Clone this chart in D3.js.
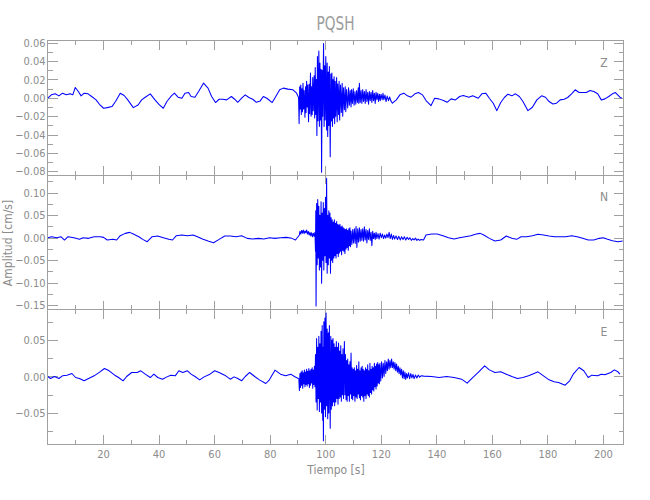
<!DOCTYPE html>
<html><head><meta charset="utf-8">
<script src="https://cdn.jsdelivr.net/npm/d3@7"></script>
<style>body{margin:0;background:#fff}</style>
</head><body><svg id="chart" width="650" height="500"></svg>
<script>
const chartTitle = "PQSH";
const componentNames = ["Z", "N", "E"];
const xLabel = "Tiempo [s]";
const yLabel = "Amplitud [cm/s]";
const xMajorTicks = [20, 40, 60, 80, 100, 120, 140, 160, 180, 200];
const xMinorTicks = [10, 30, 50, 70, 90, 110, 130, 150, 170, 190];
const yMajorZ = [-0.08, -0.06, -0.04, -0.02, 0, 0.02, 0.04, 0.06];
const yMinorZ = [-0.07, -0.05, -0.03, -0.01, 0.01, 0.03, 0.05];
const yMajorN = [-0.15, -0.10, -0.05, 0, 0.05, 0.10];
const yMinorN = [-0.125, -0.075, -0.025, 0.025, 0.075, 0.125];
const yMajorE = [-0.05, 0, 0.05];
const yMinorE = [-0.075, -0.025, 0.025, 0.075];
const timeRange = [0, 207.4];
const yRangeZ = [-0.0839, 0.0624];
const yRangeN = [-0.1596, 0.1393];
const yRangeE = [-0.0925, 0.0918];

// Z component [time s, velocity cm/s]
const traceZ = [
[0.1,-0.0004],[1.4,0.0033],[2.8,0.0044],[4.1,0.0022],[5.4,0.0051],[6.8,0.0033],[8.1,0.0044],[9.1,0.0033],[10.0,0.0113],[11.1,0.0069],[12.1,0.0022],[13.2,0.0051],[14.6,0.0044],[15.9,0.0015],[17.5,-0.0022],[18.9,-0.0077],[20.2,-0.0113],[21.5,-0.0106],[23.2,-0.0095],[24.5,-0.0040],[26.2,0.0051],[27.6,0.0026],[28.9,-0.0022],[30.9,-0.0106],[32.6,-0.0077],[33.9,-0.0022],[35.2,0.0007],[37.0,0.0044],[38.7,-0.0022],[40.3,-0.0077],[41.7,-0.0113],[43.0,-0.0040],[44.6,0.0022],[45.7,0.0051],[47.0,0.0007],[48.4,-0.0004],[49.5,0.0051],[50.8,0.0058],[51.7,0.0015],[53.1,0.0007],[54.4,0.0069],[56.2,0.0161],[57.8,0.0106],[59.1,0.0015],[60.5,-0.0051],[61.8,-0.0015],[63.2,-0.0015],[64.5,-0.0022],[66.2,0.0015],[67.4,-0.0015],[68.5,-0.0048],[69.9,-0.0004],[71.2,0.0033],[72.5,0.0004],[73.9,-0.0015],[75.2,-0.0048],[76.6,-0.0033],[77.7,0.0015],[79.0,-0.0004],[80.9,-0.0051],[82.2,0.0015],[83.6,0.0088],[84.9,0.0106],[86.6,0.0095],[88.4,0.0088],[89.7,0.0051],[90.4,0.0004],
[90.6,-0.028],[90.8,0.012],[91.0,-0.012],[91.2,0.014],[91.4,-0.018],[91.6,0.010],[91.8,-0.015],[92.0,0.016],[92.2,-0.012],[92.4,0.008],[92.7,-0.021],[92.9,0.012],[93.1,-0.016],[93.3,0.018],[93.5,-0.010],[93.7,0.014],[94.0,-0.026],[94.2,0.015],[94.4,-0.017],[94.7,0.027],[94.9,-0.020],[95.1,0.012],[95.3,-0.018],[95.5,0.022],[95.7,-0.014],[96.0,0.024],[96.2,-0.022],[96.4,0.033],[96.6,-0.018],[96.8,0.020],[97.0,-0.041],[97.2,0.045],[97.4,-0.025],[97.7,0.051],[97.9,-0.031],[98.1,0.038],[98.3,-0.024],[98.5,0.031],[98.7,-0.081],[98.9,0.030],[99.1,-0.020],[99.4,0.059],[99.6,-0.031],[99.8,0.035],[100.0,-0.024],[100.2,0.045],[100.5,-0.035],[100.7,0.038],[100.9,-0.042],[101.1,0.028],[101.3,-0.030],[101.5,0.034],[101.8,-0.064],[102.0,0.026],[102.2,-0.025],[102.4,0.027],[102.6,-0.031],[102.8,0.020],[103.0,-0.022],[103.2,0.023],[103.4,-0.028],[103.6,0.018],[103.8,-0.020],[104.1,0.022],[104.3,-0.026],[104.5,0.015],[104.8,-0.018],[105.0,0.018],[105.2,-0.024],[105.5,0.014],[105.8,-0.016],[106.1,0.016],[106.3,-0.020],[106.6,0.011],[106.9,-0.013],[107.2,0.012],[107.4,-0.015],[107.7,0.009],[108.1,-0.011],[108.4,0.011],[108.7,-0.008],[109.0,0.008],[109.3,-0.010],[109.5,0.009],[109.8,-0.006],[110.1,0.010],[110.4,-0.008],[110.7,0.007],[111.0,-0.007],[111.3,0.008],[111.6,-0.005],[111.9,0.011],[112.1,-0.006],[112.3,0.016],[112.6,-0.005],[112.9,0.008],[113.2,-0.006],[113.5,0.009],[113.8,-0.004],[114.1,0.007],[114.4,-0.006],[114.7,0.009],[115.0,-0.004],[115.3,0.006],[115.6,-0.007],[115.9,0.007],[116.2,-0.003],[116.5,0.006],[116.8,-0.005],[117.1,0.008],[117.4,-0.003],[117.7,0.005],[118.0,-0.006],[118.3,0.006],[118.6,-0.002],[118.9,0.005],[119.2,-0.004],[119.5,0.004],[119.8,-0.003],[120.1,0.004],[120.5,-0.002],[120.8,0.005],[121.1,-0.002],[121.5,0.003],[121.9,-0.004],[122.3,0.002],[122.8,-0.003],[123.2,0.001],[123.6,-0.003],
[124.2,-0.0058],[125.6,-0.0022],[126.9,0.0033],[128.3,0.0051],[129.6,0.0022],[130.9,0.0007],[132.3,0.0044],[133.6,0.0058],[135.0,0.0033],[136.3,-0.0029],[138.1,-0.0084],[139.4,-0.0004],[140.9,-0.0011],[142.6,-0.0029],[143.9,-0.0048],[145.3,-0.0011],[146.9,-0.0022],[148.4,0.0015],[149.7,0.0026],[151.7,0.0007],[153.1,0.0022],[155.1,-0.0004],[156.4,0.0044],[157.8,0.0051],[159.1,-0.0004],[160.5,-0.0058],[161.8,-0.0139],[163.2,-0.0051],[164.5,0.0004],[165.8,0.0040],[167.2,0.0022],[168.5,0.0044],[169.9,0.0015],[171.2,-0.0040],[173.0,-0.0139],[174.6,-0.0102],[176.2,-0.0022],[177.9,0.0022],[179.3,0.0007],[180.6,-0.0040],[182.0,-0.0066],[183.3,-0.0058],[184.6,-0.0022],[186.0,-0.0015],[187.3,0.0004],[188.7,0.0044],[190.0,0.0088],[191.4,0.0058],[192.7,0.0058],[194.0,0.0058],[195.4,0.0080],[196.7,0.0069],[198.1,0.0044],[199.4,-0.0022],[200.7,-0.0011],[202.1,0.0015],[203.4,0.0044],[204.5,0.0058],[206.1,0.0007],[206.8,-0.0004]
];

// N component [time s, velocity cm/s]
const traceN = [
[0.1,0.0000],[1.4,0.0022],[3.4,0.0000],[4.8,0.0022],[6.1,-0.0052],[7.4,0.0022],[9.5,0.0000],[11.5,-0.0037],[12.8,0.0000],[14.8,-0.0015],[16.8,0.0022],[18.9,0.0022],[20.2,0.0007],[21.5,-0.0052],[23.6,-0.0037],[24.9,-0.0052],[26.2,0.0044],[28.0,0.0096],[29.6,0.0118],[30.9,0.0081],[32.9,0.0022],[34.3,-0.0037],[35.9,-0.0089],[37.7,0.0022],[39.7,0.0037],[41.7,0.0000],[43.7,-0.0037],[45.0,-0.0052],[46.4,0.0044],[48.4,0.0059],[50.4,0.0044],[52.4,0.0059],[54.0,0.0022],[55.8,-0.0030],[57.8,-0.0074],[59.8,-0.0111],[61.8,-0.0037],[63.8,0.0037],[65.8,0.0037],[67.9,0.0022],[69.9,0.0044],[71.9,-0.0015],[73.9,-0.0030],[75.9,-0.0015],[77.9,-0.0030],[79.9,0.0000],[81.9,-0.0015],[83.9,0.0000],[86.0,0.0007],[88.0,-0.0015],[89.3,-0.0052],[90.7,0.0059],
[90.9,0.014],[91.2,0.008],[91.5,0.016],[91.8,0.010],[92.1,0.017],[92.4,0.009],[92.7,0.015],[93.0,0.011],[93.3,0.017],[93.6,0.008],[93.9,0.014],[94.2,0.006],[94.5,0.012],[94.8,0.004],[95.1,0.011],[95.4,0.002],[95.7,0.010],[96.0,0.003],
[96.3,0.012],[96.5,-0.030],[96.6,0.060],[96.7,-0.152],[96.9,0.076],[97.1,-0.060],[97.3,0.085],[97.5,-0.045],[97.7,0.070],[97.9,-0.072],[98.1,0.050],[98.3,-0.065],[98.5,0.080],[98.7,-0.101],[98.9,0.055],[99.1,-0.050],[99.3,0.078],[99.5,-0.072],[99.7,0.065],[99.9,-0.040],[100.1,0.090],[100.3,-0.055],[100.5,0.132],[100.7,-0.079],[100.9,0.050],[101.1,-0.060],[101.3,0.060],[101.5,-0.045],[101.7,0.055],[101.9,-0.079],[102.1,0.045],[102.3,-0.050],[102.5,0.040],[102.7,-0.055],[102.9,0.035],[103.1,-0.045],[103.3,0.040],[103.5,-0.040],[103.7,0.032],[103.9,-0.045],[104.1,0.036],[104.3,-0.035],[104.5,0.030],[104.7,-0.042],[104.9,0.028],[105.1,-0.034],[105.3,0.030],[105.5,-0.030],[105.7,0.024],[105.9,-0.038],[106.1,0.026],[106.3,-0.028],[106.5,0.022],[106.7,-0.030],[106.9,0.020],[107.1,-0.035],[107.3,0.018],[107.5,-0.025],[107.7,0.020],[107.9,-0.022],[108.1,0.016],[108.3,-0.028],[108.5,0.020],[108.7,-0.018],[108.9,0.022],[109.1,-0.020],[109.3,0.015],[109.6,-0.015],[109.9,0.018],[110.2,-0.012],[110.5,0.020],[110.8,-0.013],[111.1,0.025],[111.4,-0.022],[111.7,0.020],[112.0,-0.010],[112.3,0.022],[112.6,-0.008],[112.9,0.018],[113.2,-0.006],[113.5,0.020],[113.8,-0.008],[114.1,0.024],[114.4,-0.005],[114.7,0.018],[115.0,-0.012],[115.3,0.016],[115.6,-0.004],[115.9,0.020],[116.2,-0.006],[116.5,0.012],[116.8,-0.018],[117.1,0.014],[117.4,-0.002],[117.7,0.010],[118.0,-0.004],[118.3,0.012],[118.6,-0.002],[119.0,0.009],[119.4,-0.003],[119.8,0.010],[120.2,0.000],[120.6,0.008],[121.0,-0.002],[121.4,0.006],[121.8,-0.001],[122.2,0.008],[122.6,0.000],[123.0,0.012],[123.4,-0.002],[123.8,0.008],[124.2,-0.004],[124.6,0.005],[125.0,-0.003],[125.5,0.004],[126.0,-0.004],[126.5,0.003],[127.0,-0.005],[127.5,0.002],[128.0,-0.004],[128.5,0.002],[129.0,-0.005],[129.5,0.001],[130.0,-0.004],[130.5,0.000],[131.0,-0.006],[131.5,-0.002],[132.0,-0.005],[132.5,-0.001],[133.0,-0.006],[133.5,-0.003],[134.0,-0.006],[134.5,-0.004],
[135.4,-0.0052],[136.3,0.0059],[138.3,0.0081],[140.3,0.0081],[142.4,0.0044],[144.4,0.0000],[146.4,-0.0030],[148.4,0.0000],[150.4,0.0022],[152.4,0.0044],[154.4,0.0081],[155.8,0.0096],[157.1,0.0059],[159.1,-0.0015],[161.1,-0.0074],[163.2,-0.0052],[165.2,0.0037],[167.2,-0.0015],[168.9,-0.0037],[170.5,0.0022],[172.5,0.0022],[174.6,0.0044],[176.6,0.0074],[178.6,0.0059],[180.6,0.0037],[182.6,0.0022],[184.6,0.0022],[186.6,0.0022],[188.7,0.0044],[190.7,0.0022],[192.7,-0.0015],[194.7,-0.0052],[196.7,-0.0052],[198.7,-0.0015],[200.1,0.0000],[201.4,-0.0030],[203.4,-0.0067],[205.4,-0.0089],[207.1,-0.0074]
];

// E component [time s, velocity cm/s]
const traceE = [
[0.1,0.0000],[1.1,-0.0027],[2.5,0.0000],[4.1,-0.0027],[5.4,0.0009],[7.0,0.0018],[8.8,0.0041],[10.1,-0.0014],[11.5,-0.0027],[13.2,-0.0059],[14.8,-0.0027],[16.8,0.0009],[18.9,0.0064],[20.5,0.0110],[22.2,0.0078],[24.2,0.0018],[25.6,-0.0014],[27.2,-0.0059],[28.5,0.0000],[30.3,0.0055],[32.3,0.0055],[33.6,0.0078],[35.2,0.0032],[37.0,-0.0014],[38.3,0.0032],[39.7,-0.0014],[41.4,-0.0037],[43.0,-0.0005],[44.4,0.0018],[46.0,0.0009],[47.3,0.0078],[48.7,0.0055],[50.4,0.0078],[51.7,0.0032],[53.1,0.0000],[54.8,-0.0046],[56.4,-0.0005],[58.5,0.0032],[60.2,0.0078],[61.8,0.0055],[63.8,0.0018],[65.8,-0.0037],[67.2,-0.0005],[68.5,-0.0027],[69.9,-0.0059],[71.2,0.0000],[72.8,0.0055],[74.6,0.0000],[76.3,-0.0046],[78.6,-0.0096],[79.9,-0.0046],[81.9,0.0087],[83.9,0.0032],[85.7,0.0009],[87.6,0.0032],[88.9,0.0000],[90.3,-0.0027],
[90.5,-0.003],[90.7,-0.019],[90.9,0.004],[91.1,-0.015],[91.3,0.006],[91.5,-0.012],[91.7,0.008],[91.9,-0.016],[92.1,0.005],[92.3,-0.010],[92.5,0.009],[92.7,-0.014],[92.9,0.006],[93.1,-0.011],[93.3,0.010],[93.5,-0.013],[93.7,0.007],[93.9,-0.010],[94.1,0.011],[94.3,-0.015],[94.5,0.008],[94.7,-0.012],[94.9,0.010],[95.1,-0.009],[95.3,0.012],[95.5,-0.016],[95.7,0.009],[95.9,-0.011],[96.1,0.014],[96.3,-0.014],[96.5,0.030],[96.7,-0.035],[96.9,0.052],[97.1,-0.046],[97.3,0.040],[97.5,-0.030],[97.7,0.055],[97.9,-0.048],[98.1,0.045],[98.3,-0.035],[98.5,0.062],[98.7,-0.050],[98.9,0.070],[99.1,-0.060],[99.2,0.040],[99.35,-0.088],[99.5,0.075],[99.7,-0.045],[99.9,0.080],[100.1,-0.055],[100.3,0.087],[100.5,-0.040],[100.7,0.065],[100.9,-0.058],[101.1,0.060],[101.3,-0.050],[101.5,0.070],[101.8,-0.071],[102.0,0.055],[102.2,-0.045],[102.4,0.050],[102.6,-0.040],[102.8,0.052],[103.0,-0.035],[103.2,0.045],[103.4,-0.040],[103.6,0.040],[103.8,-0.035],[104.0,0.048],[104.2,-0.030],[104.4,0.040],[104.6,-0.038],[104.8,0.046],[105.0,-0.030],[105.2,0.035],[105.4,-0.028],[105.6,0.042],[105.8,-0.034],[106.0,0.030],[106.2,-0.025],[106.4,0.038],[106.6,-0.030],[106.9,0.048],[107.1,-0.025],[107.3,0.030],[107.5,-0.032],[107.7,0.022],[107.9,-0.034],[108.1,0.024],[108.3,-0.026],[108.5,0.016],[108.7,-0.034],[108.9,0.020],[109.1,-0.024],[109.3,0.032],[109.5,-0.030],[109.7,0.012],[109.9,-0.032],[110.1,0.010],[110.3,-0.026],[110.5,0.012],[110.7,-0.034],[110.9,0.008],[111.1,-0.028],[111.3,0.015],[111.5,-0.030],[111.7,0.010],[111.9,-0.024],[112.1,0.020],[112.3,-0.029],[112.5,0.008],[112.7,-0.032],[112.9,0.012],[113.1,-0.026],[113.3,0.014],[113.5,-0.028],[113.7,0.010],[113.9,-0.034],[114.1,0.008],[114.3,-0.026],[114.5,0.012],[114.7,-0.030],[114.9,0.010],[115.1,-0.024],[115.3,0.016],[115.5,-0.026],[115.7,0.008],[115.9,-0.028],[116.1,0.018],[116.3,-0.022],[116.5,0.010],[116.7,-0.024],[116.9,0.014],[117.1,-0.018],[117.3,0.012],[117.5,-0.020],[117.7,0.018],[117.9,-0.014],[118.1,0.014],[118.3,-0.017],[118.5,0.017],[118.7,-0.013],[118.9,0.019],[119.1,-0.009],[119.3,0.016],[119.5,-0.010],[119.7,0.018],[120.0,-0.006],[120.3,0.020],[120.6,-0.002],[120.9,0.018],[121.2,0.000],[121.5,0.022],[121.8,0.004],[122.1,0.020],[122.4,0.008],[122.7,0.024],[123.0,0.010],[123.3,0.022],[123.6,0.012],[123.9,0.024],[124.2,0.012],[124.5,0.020],[124.8,0.010],[125.1,0.019],[125.4,0.008],[125.7,0.017],[126.0,0.006],[126.3,0.014],[126.6,0.004],[126.9,0.012],[127.2,0.002],[127.5,0.010],[127.8,-0.002],[128.1,0.008],[128.4,-0.003],[128.7,0.006],[129.0,-0.004],[129.3,0.004],[129.6,-0.002],[130.0,0.005],[130.4,-0.003],[130.8,0.004],[131.2,-0.002],[131.6,0.003],[132.0,-0.003],[132.5,0.002],[133.0,-0.002],[133.5,0.002],[134.0,-0.001],[134.5,0.001],
[135.5,0.0005],[138.3,0.0000],[141.0,-0.0014],[143.7,0.0000],[146.4,-0.0014],[149.1,-0.0037],[151.1,-0.0091],[153.1,-0.0014],[155.1,0.0055],[157.4,0.0146],[159.1,0.0091],[161.1,0.0055],[163.2,0.0064],[165.2,0.0032],[167.2,0.0000],[169.2,-0.0027],[171.2,-0.0014],[173.2,0.0009],[175.2,0.0041],[176.6,0.0064],[178.6,0.0009],[180.6,-0.0046],[182.4,-0.0073],[184.0,-0.0082],[186.4,-0.0119],[188.0,-0.0059],[189.3,0.0032],[191.4,0.0123],[193.1,0.0078],[194.7,-0.0014],[196.0,0.0018],[198.1,0.0009],[199.4,0.0032],[200.7,0.0023],[202.8,0.0055],[204.1,0.0091],[205.4,0.0064],[206.1,0.0032]
];

const traces = [traceZ, traceN, traceE];
const yRanges = [yRangeZ, yRangeN, yRangeE];
const yMajors = [yMajorZ, yMajorN, yMajorE];
const yMinors = [yMinorZ, yMinorN, yMinorE];

// layout
const left = 47.5, right = 623.5;
const panelTops = [40.5, 175, 309.5];
const panelH = 134.5;
const axisColor = "#a0a0a0";
const textColor = "#8c8c8c";
const font = "'DejaVu Sans Condensed','DejaVu Sans',sans-serif";

const svg = d3.select("#chart");
const x = d3.scaleLinear().domain(timeRange).range([left, right]);
const fmt = d3.format(".2f");

function styleAxis(g) {
  g.select(".domain").remove();
  g.attr("color", axisColor).attr("font-family", font).attr("font-size", 11);
  g.selectAll("line").attr("stroke", axisColor).attr("shape-rendering", "crispEdges");
  g.selectAll("text").attr("fill", textColor).style("font-stretch", "condensed");
}

traces.forEach((trace, i) => {
  const top = panelTops[i], bottom = top + panelH;
  const y = d3.scaleLinear().domain(yRanges[i]).range([bottom, top]);
  const g = svg.append("g");

  g.append("clipPath").attr("id", "clip" + i).append("rect")
    .attr("x", left).attr("y", top).attr("width", right - left).attr("height", panelH);

  g.append("g").attr("transform", `translate(0,${bottom})`)
    .call(d3.axisBottom(x).tickValues(xMajorTicks).tickSize(-9).tickPadding(6)
      .tickFormat(i === 2 ? d3.format("d") : () => ""))
    .call(styleAxis);
  g.append("g").attr("transform", `translate(0,${bottom})`)
    .call(d3.axisBottom(x).tickValues(xMinorTicks).tickSize(-4.5).tickFormat(() => ""))
    .call(styleAxis);
  g.append("g").attr("transform", `translate(0,${top})`)
    .call(d3.axisTop(x).tickValues(xMajorTicks).tickSize(-9).tickFormat(() => ""))
    .call(styleAxis);
  g.append("g").attr("transform", `translate(0,${top})`)
    .call(d3.axisTop(x).tickValues(xMinorTicks).tickSize(-4.5).tickFormat(() => ""))
    .call(styleAxis);

  g.append("g").attr("transform", `translate(${left},0)`)
    .call(d3.axisLeft(y).tickValues(yMajors[i]).tickSize(-10).tickPadding(2).tickFormat(fmt))
    .call(styleAxis);
  g.append("g").attr("transform", `translate(${left},0)`)
    .call(d3.axisLeft(y).tickValues(yMinors[i]).tickSize(-5).tickFormat(() => ""))
    .call(styleAxis);
  g.append("g").attr("transform", `translate(${right},0)`)
    .call(d3.axisRight(y).tickValues(yMajors[i]).tickSize(-10).tickFormat(() => ""))
    .call(styleAxis);
  g.append("g").attr("transform", `translate(${right},0)`)
    .call(d3.axisRight(y).tickValues(yMinors[i]).tickSize(-5).tickFormat(() => ""))
    .call(styleAxis);

  g.append("path").datum(trace)
    .attr("clip-path", `url(#clip${i})`)
    .attr("fill", "none").attr("stroke", "#0000ff").attr("stroke-width", 1.05)
    .attr("stroke-linejoin", "round")
    .attr("d", d3.line().x(d => x(d[0])).y(d => y(d[1])));

  g.append("rect").attr("x", left).attr("y", top).attr("width", right - left).attr("height", panelH)
    .attr("fill", "none").attr("stroke", axisColor).attr("stroke-width", 1).attr("shape-rendering", "crispEdges");

  g.append("text").attr("x", 604).attr("y", top + 26).attr("text-anchor", "middle")
    .attr("font-family", font).attr("font-size", 12).style("font-stretch", "condensed")
    .attr("fill", textColor).text(componentNames[i]);
});

svg.append("text").attr("transform", `translate(335.5,30) scale(0.8,1)`)
  .attr("text-anchor", "middle").attr("font-family", font).attr("font-size", 19)
  .attr("fill", "#9c9c9c").text(chartTitle);

svg.append("text").attr("x", 336).attr("y", 474).attr("text-anchor", "middle")
  .attr("font-family", font).attr("font-size", 12).style("font-stretch", "condensed")
  .attr("fill", textColor).text(xLabel);

svg.append("text").attr("transform", "translate(12,243) rotate(-90)").attr("text-anchor", "middle")
  .attr("font-family", font).attr("font-size", 12).style("font-stretch", "condensed")
  .attr("fill", textColor).text(yLabel);
</script>
</body></html>
